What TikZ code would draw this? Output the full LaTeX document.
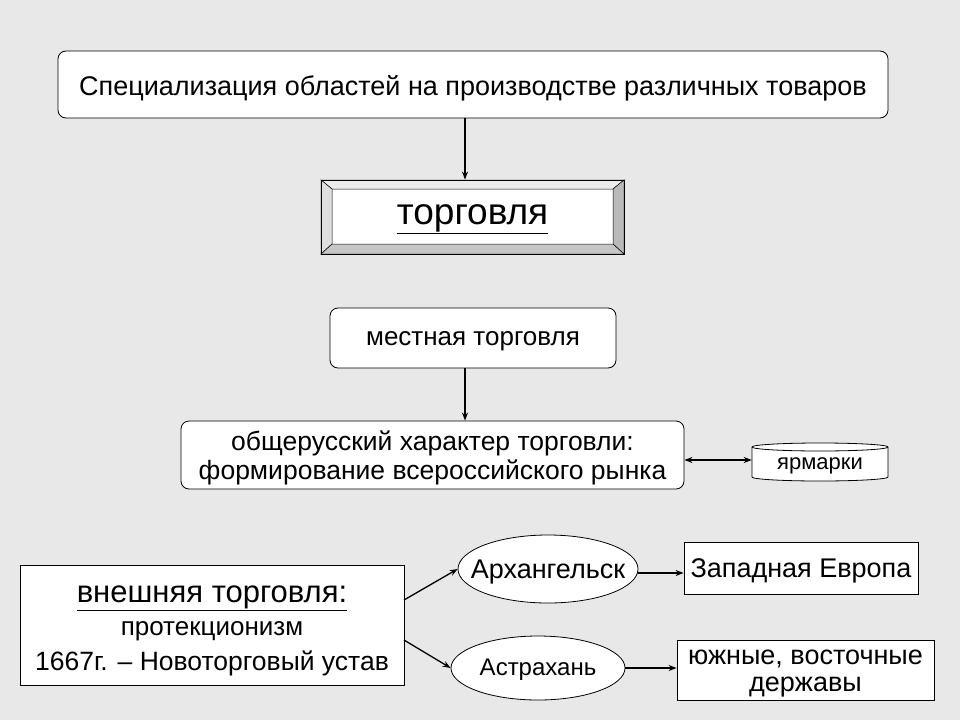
\documentclass[tikz,border=0pt]{standalone}
\usepackage{fontspec}
\setmainfont{Liberation Sans}
\usetikzlibrary{arrows.meta,shapes.geometric}
\begin{document}
\begin{tikzpicture}[x=1pt,y=-1pt,
  box/.style={draw=black,fill=white,line width=0.8pt,inner sep=0pt},
  rbox/.style={box,rounded corners=8pt},
  arr/.style={-{Stealth[length=8pt,width=6pt]},line width=1.3pt},
  t/.style={font=\fontsize{#1}{#1}\selectfont}]
\useasboundingbox (0,0) rectangle (960,720);
\fill[gray!18] (0,0) rectangle (960,720);
% top
\node[rbox,minimum width=830,minimum height=67,t=27] (spec) at (473,84.5) {};
\node[t=27] at (473,88) {Специализация областей на производстве различных товаров};
% bevel box
\node[box,minimum width=303,minimum height=74] (torg) at (472.5,217) {};
\fill[white!85!gray,draw=black,line width=0.5pt] (321,180)--(624,180)--(613,189)--(332,189)--cycle;
\fill[gray!25,draw=black,line width=0.5pt] (321,180)--(332,189)--(332,244)--(321,254)--cycle;
\fill[gray!55,draw=black,line width=0.5pt] (624,180)--(613,189)--(613,244)--(624,254)--cycle;
\fill[gray!45,draw=black,line width=0.5pt] (321,254)--(332,244)--(613,244)--(624,254)--cycle;
\draw[line width=0.8pt] (321,180) rectangle (624,254);
\node[t=37] at (472.5,219) {\underline{торговля}};
\node[rbox,minimum width=286,minimum height=60] (mest) at (473,338) {};
\node[t=26] at (473,341) {местная торговля};
\node[rbox,minimum width=503,minimum height=68] (obsh) at (432.5,455) {};
\node[t=26.5,align=center] at (432.5,458) {общерусский характер торговли:\\[2pt]формирование всероссийского рынка};
\node[inner sep=0pt,minimum width=136,minimum height=38] (yarm) at (820,462) {};
\draw[fill=white,line width=0.8pt] (752,447) -- (752,477) arc[start angle=180,end angle=360,x radius=68,y radius=-4] -- (888,447) arc[start angle=0,end angle=180,x radius=68,y radius=-4] -- cycle;
\draw[line width=0.8pt] (752,447) arc[start angle=180,end angle=360,x radius=68,y radius=-4];
\node[t=22] at (820,466) {ярмарки};
\draw[arr] (spec.south -| 465,0) -- (torg.north -| 465,0);
\draw[arr] (mest.south -| 465,0) -- (obsh.north -| 465,0);
\draw[{Stealth[length=8pt,width=6pt]}-{Stealth[length=8pt,width=6pt]},line width=1.3pt] (obsh.east |- 0,460) -- (yarm.west |- 0,460);
% bottom
\node[box,minimum width=384,minimum height=120] (vnesh) at (212,625) {};
\node[t=31] at (212,598) {\underline{внешняя торговля:}};
\node[t=26] at (212,631) {протекционизм};
\node[t=26.5] at (212,663) {1667г. – Новоторговый устав};
\node[ellipse,box,minimum width=180,minimum height=68] (arch) at (548,569) {};
\node[t=27] at (548,572) {Архангельск};
\node[ellipse,box,minimum width=174,minimum height=64] (astr) at (538,668) {};
\node[t=24] at (538,670) {Астрахань};
\node[box,minimum width=234,minimum height=52] (zap) at (801,568) {};
\node[t=27] at (801,571) {Западная Европа};
\node[box,minimum width=257,minimum height=60] (yuzh) at (805.5,670) {};
\node[t=27,align=center] at (805.5,674) {южные, восточные\\[0pt]державы};
\draw[arr] (404,600) -- (arch.west |- 0,569);
\draw[arr] (404,640) -- (astr.west |- 0,668);
\draw[arr] (arch.east |- 0,573) -- (zap.west |- 0,573);
\draw[arr] (astr.east |- 0,668) -- (yuzh.west |- 0,668);
\end{tikzpicture}
\end{document}
